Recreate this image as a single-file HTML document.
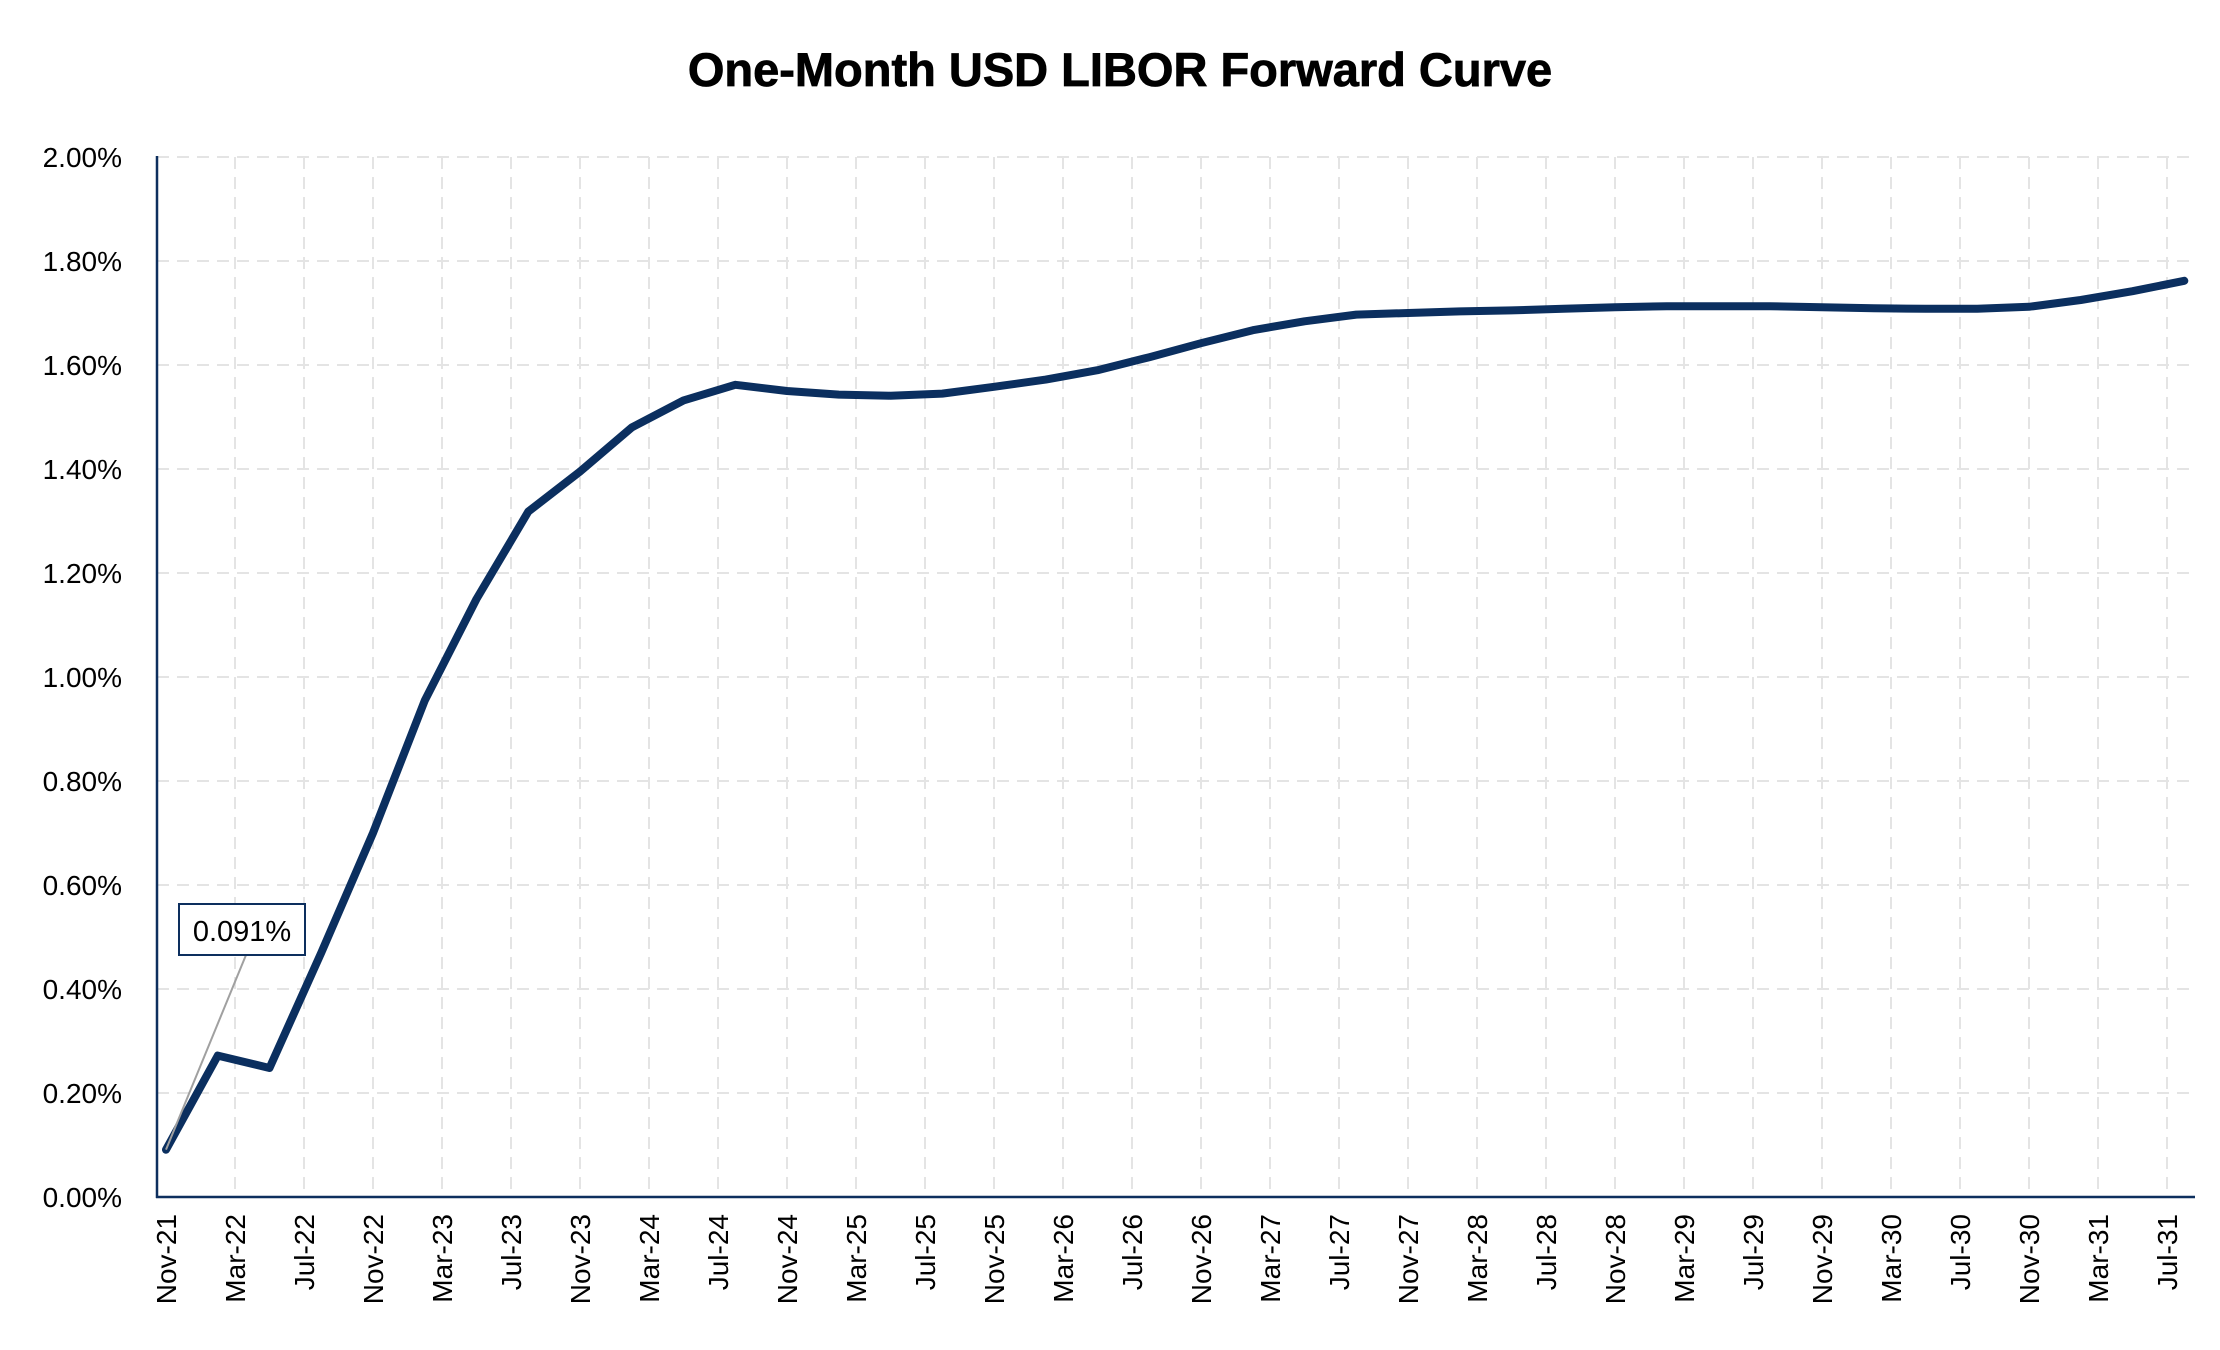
<!DOCTYPE html>
<html><head><meta charset="utf-8"><style>
html,body{margin:0;padding:0;background:#fff;}
svg{display:block;font-family:"Liberation Sans",sans-serif;}
</style></head><body>
<svg id="chart" width="2220" height="1350" viewBox="0 0 2220 1350">
<text x="1120" y="86" text-anchor="middle" font-size="47" font-weight="bold" fill="#000" stroke="#000" stroke-width="0.8">One-Month USD LIBOR Forward Curve</text>
<g id="grid"></g>
<g id="yticks"></g>
<g id="xticks"></g>
<line x1="157" y1="156" x2="157" y2="1198" stroke="#0d2f5e" stroke-width="2.5"/>
<line x1="156" y1="1197" x2="2195" y2="1197" stroke="#0d2f5e" stroke-width="2.5"/>
<path id="series" fill="none" stroke="#0b2f5f" stroke-width="8" stroke-linejoin="round" stroke-linecap="round"/>
<line id="leader" stroke="#a0a0a0" stroke-width="2"/>
<rect x="179" y="904" width="126" height="51" fill="#fff" stroke="#0d2f5e" stroke-width="2"/>
<text id="annot" x="242" y="941" text-anchor="middle" font-size="29" fill="#000">0.091%</text>
</svg>
<script>
const xLabels = ["Nov-21","Mar-22","Jul-22","Nov-22","Mar-23","Jul-23","Nov-23","Mar-24","Jul-24","Nov-24","Mar-25","Jul-25","Nov-25","Mar-26","Jul-26","Nov-26","Mar-27","Jul-27","Nov-27","Mar-28","Jul-28","Nov-28","Mar-29","Jul-29","Nov-29","Mar-30","Jul-30","Nov-30","Mar-31","Jul-31"];
const yTicks = [0,0.2,0.4,0.6,0.8,1.0,1.2,1.4,1.6,1.8,2.0];
// quarterly points starting Nov-21 (month offset = 3*i)
const rates = [0.091,0.272,0.248,0.47,0.70,0.955,1.15,1.318,1.395,1.48,1.532,1.562,1.550,1.543,1.541,1.545,1.558,1.572,1.590,1.615,1.642,1.667,1.684,1.697,1.700,1.703,1.705,1.708,1.711,1.713,1.713,1.713,1.711,1.709,1.708,1.708,1.712,1.725,1.742,1.762];
const monthStep = 3;

const X0=166, PX_PER_MONTH=17.25, Y0=1197, Y1=157, YMAX=2.0;
const xm = m => X0 + m*PX_PER_MONTH;
const yv = v => Y0 - (v/YMAX)*(Y0-Y1);
const NS="http://www.w3.org/2000/svg";
const grid=document.getElementById('grid'), yt=document.getElementById('yticks'), xt=document.getElementById('xticks');

yTicks.forEach(v=>{
  if(v>0){
    const l=document.createElementNS(NS,'line');
    
    
    l.setAttribute('x1',157);l.setAttribute('x2',2195);l.setAttribute('y1',yv(v));l.setAttribute('y2',yv(v));
    l.setAttribute('stroke','#e4e4e4');l.setAttribute('stroke-width','2');l.setAttribute('stroke-dasharray','12 8');
    grid.appendChild(l);
  }
  const t=document.createElementNS(NS,'text');
  
  
  t.setAttribute('x',122);t.setAttribute('y',yv(v)+10);t.setAttribute('text-anchor','end');t.setAttribute('font-size','28');
  t.textContent=v.toFixed(2)+'%';
  yt.appendChild(t);
});
xLabels.forEach((s,i)=>{
  const x=xm(i*4);
  if(i>0){
    const l=document.createElementNS(NS,'line');
    
    
    l.setAttribute('x1',x);l.setAttribute('x2',x);l.setAttribute('y1',157);l.setAttribute('y2',1197);
    l.setAttribute('stroke','#e4e4e4');l.setAttribute('stroke-width','2');l.setAttribute('stroke-dasharray','12 8');
    grid.appendChild(l);
  }
  const t=document.createElementNS(NS,'text');
  
  
  t.setAttribute('transform','translate('+(x+10)+',1214) rotate(-90)');
  t.setAttribute('text-anchor','end');t.setAttribute('font-size','28');
  t.textContent=s;
  xt.appendChild(t);
});
let d='';
rates.forEach((v,i)=>{d+=(i?'L':'M')+xm(i*monthStep).toFixed(1)+','+yv(v).toFixed(1);});
document.getElementById('series').setAttribute('d',d);
const ld=document.getElementById('leader');
ld.setAttribute('x1',246);ld.setAttribute('y1',955);ld.setAttribute('x2',xm(0));ld.setAttribute('y2',yv(rates[0]));
document.getElementById('annot').textContent=rates[0].toFixed(3)+'%';
</script>
</body></html>
